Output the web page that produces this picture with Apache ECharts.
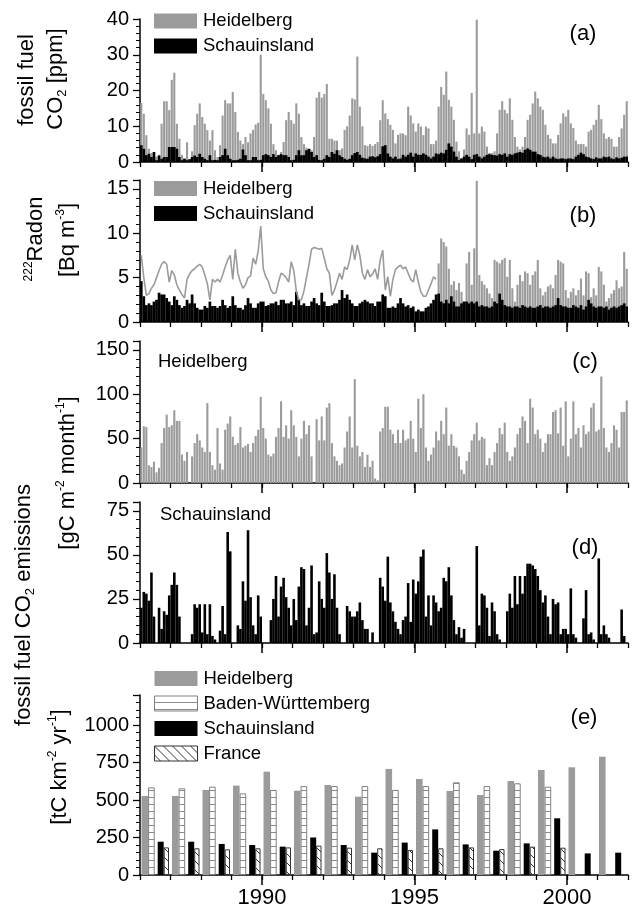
<!DOCTYPE html>
<html><head><meta charset="utf-8">
<script src="https://cdn.jsdelivr.net/npm/echarts@6/dist/echarts.min.js"></script>
<style>html,body{margin:0;padding:0;background:#fff}#c{width:637px;height:909px}</style>
</head><body><div id="c"></div>
<script>
// ---------------- DATA ----------------
const years = [1986,1987,1988,1989,1990,1991,1992,1993,1994,1995,1996,1997,1998,1999,2000,2001];
const yearTicks = [1990, 1995, 2000];

// (a) fossil fuel CO2 [ppm], monthly
const heidelbergCO2 = [
 16.5,13.5,7.5,3.7,2.5,2.0,1.5,2.0,10.7,17.0,17.0,14.5,
 23.0,25.0,10.7,6.5,2.0,1.0,5.5,0.5,3.0,10.3,13.5,16.4,
 12.6,10.7,8.9,6.0,8.9,3.3,1.4,4.7,13.0,17.3,16.4,16.4,
 19.6,14.0,8.4,6.0,5.0,7.0,5.5,8.0,9.0,10.5,11.0,30.0,
 19.0,17.3,15.0,10.7,5.0,3.3,2.0,2.8,5.6,11.7,14.0,11.7,
 10.7,16.4,13.5,7.0,5.0,4.0,2.0,3.3,7.0,18.0,19.6,18.0,
 19.0,21.8,6.5,6.5,6.0,6.0,3.3,3.8,9.0,10.0,13.0,17.8,
 17.5,29.5,15.5,10.0,4.7,4.5,5.0,4.5,5.0,5.6,11.7,17.3,
 13.6,12.0,10.4,9.0,5.2,7.6,8.0,8.0,7.5,15.5,13.0,10.8,
 8.5,10.8,9.9,7.5,9.9,9.4,5.0,5.0,6.0,15.5,21.0,18.8,
 25.3,17.4,15.5,11.8,5.7,3.0,1.0,3.5,9.4,7.6,19.3,8.0,
 39.8,8.0,9.9,8.5,4.3,2.5,2.5,3.0,8.0,14.6,17.0,14.6,
 13.6,17.8,11.8,7.0,4.3,3.5,4.3,7.0,11.8,13.2,16.4,19.7,
 17.8,15.5,14.6,10.4,7.6,6.5,5.2,5.2,7.6,10.8,13.6,12.7,
 14.6,10.8,9.5,6.0,5.0,5.0,5.0,4.3,8.5,9.0,10.4,11.8,
 16.0,12.0,8.0,6.5,7.0,6.5,4.3,4.3,7.0,9.4,13.2,17.0
];
const schauinslandCO2 = [
 4.7,3.7,1.9,2.3,1.4,2.8,0.5,1.8,0.9,1.4,1.4,4.2,
 4.2,4.2,3.7,1.4,0.5,0.9,0.5,0.8,1.4,1.8,1.4,2.3,
 1.4,0.9,0.5,1.9,0.5,0.6,0.5,1.4,1.9,3.7,1.9,0.9,
 0.5,0.5,0.6,0.9,3.5,1.9,0.5,0.5,1.4,1.4,0.5,0.6,
 1.9,2.2,1.9,1.4,2.2,1.4,1.9,2.2,1.9,1.9,1.4,0.5,
 0.6,1.9,3.3,1.9,1.9,3.3,3.7,2.8,1.4,1.9,0.6,0.5,
 0.9,1.9,1.4,2.8,2.3,3.3,1.9,1.4,0.9,0.6,0.9,1.9,
 2.5,2.8,2.0,1.2,1.0,0.9,1.5,1.6,1.3,1.6,2.2,4.4,
 4.7,2.4,1.5,1.0,1.5,0.8,1.0,2.0,1.5,2.0,2.6,1.5,
 2.4,2.0,2.0,2.4,2.0,1.5,1.0,1.5,2.4,2.2,2.6,2.4,
 3.4,5.2,4.3,2.9,1.5,0.6,1.0,1.5,2.0,1.5,0.8,2.0,
 2.2,1.5,1.0,1.5,2.0,2.2,2.0,1.9,1.8,2.2,2.0,2.4,
 1.5,2.2,2.0,2.4,2.6,2.8,2.6,3.4,3.8,3.4,2.9,2.9,
 2.2,2.0,1.5,1.3,1.5,1.0,1.5,1.0,0.8,1.0,1.0,0.8,
 1.0,1.0,0.8,1.5,2.0,2.6,2.2,1.5,1.3,1.0,0.8,1.3,
 1.0,1.0,1.5,1.3,1.5,1.0,0.8,1.3,1.0,1.2,1.5,1.5
];

// (b) 222Radon [Bq m-3]; Heidelberg: line Jan 1986 - Sep 1995, bars Oct 1995 - Dec 2001
const radonHeidelbergLine = [
 7.5,5.0,3.0,3.2,3.8,4.2,5.0,5.8,6.5,6.8,6.5,4.5,
 5.8,5.3,4.2,3.6,3.1,2.7,4.8,5.4,5.8,6.0,6.3,6.5,
 6.2,5.3,4.3,2.5,4.8,4.5,4.8,4.5,5.3,6.2,7.0,7.5,
 4.8,8.2,5.5,4.5,3.8,4.2,5.0,5.2,7.2,6.5,8.0,10.8,
 6.0,5.1,4.6,3.6,3.2,3.3,4.5,5.5,5.3,5.0,4.5,6.8,
 5.8,3.5,2.5,2.5,3.5,5.0,6.5,8.2,8.4,8.3,8.2,8.3,
 7.2,6.0,5.5,3.0,3.6,4.5,5.5,4.8,6.2,5.9,7.0,8.7,
 7.0,8.7,7.5,5.5,4.8,5.9,5.1,5.4,6.0,4.8,7.0,8.1,
 3.6,5.1,2.9,4.8,5.9,6.2,6.4,6.0,6.2,5.5,4.8,4.5,
 5.9,4.5,3.4,2.9,2.9,3.6,4.3,5.1,4.8
];
const radonHeidelbergBars = [
 6.6,9.4,9.0,
 8.5,6.0,4.2,4.6,3.6,4.4,3.4,2.3,6.6,7.9,4.2,8.3,
 15.9,5.3,4.6,4.2,3.8,3.2,2.7,7.0,6.8,6.6,7.0,7.2,
 5.1,7.0,3.8,2.3,4.2,5.3,4.6,5.7,5.5,4.2,5.3,5.7,
 7.0,3.8,3.0,3.4,4.0,4.2,3.8,5.3,7.0,6.8,6.6,3.6,
 2.7,3.4,3.8,3.0,3.6,4.9,3.0,5.7,5.5,2.8,3.8,3.0,
 6.2,5.7,4.2,2.3,2.7,3.2,3.6,4.7,3.8,4.0,7.9,6.0
];
const radonSchauinsland = [
 4.6,2.9,1.9,2.1,1.9,2.3,2.5,3.3,3.1,3.1,2.7,2.3,
 1.9,2.9,2.5,1.9,1.6,1.8,2.5,2.1,3.1,2.1,1.6,1.4,
 1.4,1.8,1.6,2.3,1.8,1.8,1.6,1.8,2.5,1.9,1.6,1.8,
 2.9,1.9,1.6,1.6,1.4,1.9,2.7,2.1,1.6,1.6,2.1,2.3,
 2.3,1.8,1.9,2.1,2.1,2.3,1.9,2.5,2.5,2.1,2.1,2.3,
 1.9,3.4,2.5,1.9,2.1,1.8,1.8,2.3,2.7,2.1,1.9,3.3,
 2.3,1.8,1.8,1.9,2.1,2.1,2.5,3.6,2.7,3.1,2.5,2.1,
 1.8,1.8,2.1,2.3,2.5,2.3,2.1,2.1,1.8,2.3,2.3,3.1,
 2.9,1.6,1.6,1.75,1.6,2.1,2.7,2.1,1.75,1.9,1.6,1.75,
 1.2,1.4,1.2,1.2,1.6,1.75,2.1,2.5,3.1,3.2,2.3,2.1,
 2.5,2.1,2.9,2.3,1.75,1.75,2.1,2.3,2.3,2.1,2.3,2.1,
 2.3,1.75,1.9,1.75,1.75,1.6,1.75,2.3,2.1,3.2,2.5,1.9,
 1.75,1.75,1.6,1.75,1.75,1.6,1.9,1.75,1.6,1.75,1.6,1.6,
 1.75,1.9,1.6,1.75,1.75,1.6,1.75,1.9,2.7,1.9,1.75,1.75,
 1.6,1.6,1.9,1.75,1.6,1.9,1.4,1.75,2.5,2.1,1.75,1.6,
 1.75,1.75,1.6,1.75,1.4,1.6,1.75,1.6,1.75,1.9,2.1,1.75
];

// (c) Heidelberg fossil fuel CO2 emissions [gC m-2 month-1]
const heidelbergEmission = [
 40,64,63,20,18,24,12,17,45,62,77,63,
 65,82,70,70,32,25,35,0,30,45,55,48,
 40,35,90,35,20,15,62,22,15,60,67,75,
 52,43,45,63,40,42,44,35,45,53,60,97,
 62,50,32,30,33,52,62,92,52,65,50,82,
 65,52,30,50,70,55,65,30,0,72,48,75,
 48,85,90,45,30,25,20,22,40,58,75,40,
 117,42,30,35,18,32,18,25,5,3,58,62,
 86,86,60,55,45,60,45,60,48,50,70,50,
 35,95,62,100,40,25,32,40,58,48,70,55,
 85,42,55,42,40,30,15,10,25,35,48,55,
 68,48,52,50,20,28,20,35,45,62,55,68,
 35,25,30,40,55,62,75,70,45,95,85,55,
 60,50,35,45,55,55,80,82,56,85,42,92,
 30,50,92,55,62,40,65,55,58,85,90,58,
 60,120,62,40,35,45,65,60,40,80,80,93
];
// (d) Schauinsland fossil fuel CO2 emissions [gC m-2 month-1]
const schauinslandEmission = [
 20,29,28,24,40,15,0,20,8,18,16,27,
 33,40,33,15,0,0,0,0,5,22,20,22,
 6,22,5,22,4,2,0,7,21,5,63,52,
 0,0,10,8,35,24,64,26,10,5,27,15,
 0,0,0,13,25,38,15,32,37,26,20,10,
 25,13,32,43,42,10,20,44,5,6,35,25,
 20,51,40,25,39,20,5,0,0,21,18,15,
 15,18,23,13,8,8,0,6,0,0,37,32,
 24,49,23,18,12,8,5,13,15,34,12,36,
 28,35,49,53,15,27,10,27,23,18,20,37,
 35,43,27,13,5,9,3,8,0,0,0,0,
 55,10,28,27,20,4,23,18,5,2,0,0,
 18,28,20,38,22,38,28,38,45,45,44,42,
 38,30,23,27,15,5,25,22,23,5,8,8,
 5,31,5,3,0,0,14,30,5,6,2,0,
 48,5,10,5,3,0,0,0,0,19,4,0
];

// (e) annual fossil fuel CO2 emissions [tC km-2 yr-1]
const heidelbergAnnual   = [527,527,567,596,689,562,600,522,707,640,560,533,627,700,718,789];
const badenWuerttemberg  = [584,578,589,544,567,593,593,593,567,593,618,593,611,589,null,null];
const schauinslandAnnual = [222,222,207,200,189,250,200,149,216,304,204,162,211,378,144,149];
const franceAnnual       = [184,178,171,178,184,196,182,178,167,178,184,173,189,182,null,null];

// ---------------- STYLE / LAYOUT ----------------
const FONT = '"Liberation Sans", Arial, Helvetica, sans-serif';
const GRAY = '#9b9b9b';
const months = [];
years.forEach(y => { for (let m = 1; m <= 12; m++) months.push(y + '-' + m); });
const nLine = radonHeidelbergLine.length;
const radonLineFull = radonHeidelbergLine.concat(new Array(months.length - nLine).fill(null));
const radonBarsFull = new Array(nLine).fill(null).concat(radonHeidelbergBars);

function makePattern(kind) {
  const c = document.createElement('canvas');
  const g = c.getContext('2d');
  if (kind === 'h') {
    c.width = 4; c.height = 7;
    g.fillStyle = '#fff'; g.fillRect(0, 0, 4, 7);
    g.fillStyle = '#8a8a8a'; g.fillRect(0, 6, 4, 1);
  } else {
    c.width = 9; c.height = 9;
    g.fillStyle = '#fff'; g.fillRect(0, 0, 9, 9);
    g.strokeStyle = '#333'; g.lineWidth = 1;
    g.beginPath(); g.moveTo(-1, -1); g.lineTo(10, 10); g.stroke();
  }
  return { image: c, repeat: 'repeat' };
}
const hPat = makePattern('h');
const dPat = makePattern('d');

const gridBase = { left: 140, right: 9, containLabel: false, outerBoundsMode: 'none' };
const grids = [
  Object.assign({}, gridBase, { top: 19,  height: 143 }),
  Object.assign({}, gridBase, { top: 180, height: 142 }),
  Object.assign({}, gridBase, { top: 341, height: 142 }),
  Object.assign({}, gridBase, { top: 502, height: 141 }),
  Object.assign({}, gridBase, { top: 695, height: 180 })
];
const xAxes = [], yAxes = [], series = [];
function catAxis(g, data) {
  xAxes.push({ type: 'category', gridIndex: g, position: 'bottom', data: data, boundaryGap: true, show: false });
  return xAxes.length - 1;
}
function yearAxes(g, labels) {
  xAxes.push({ type: 'value', gridIndex: g, position: 'bottom', min: 1986, max: 2002, interval: 1,
    axisLine: { show: true, onZero: false, lineStyle: { color: '#000', width: 1.5 } },
    axisTick: { show: true, inside: false, length: 5, lineStyle: { color: '#000', width: 1.3 } },
    axisLabel: { show: false }, splitLine: { show: false } });
  xAxes.push({ type: 'value', gridIndex: g, position: 'bottom', min: 1986, max: 2002,
    axisLine: { show: false, onZero: false },
    axisTick: { show: true, inside: false, length: 10, customValues: yearTicks, lineStyle: { color: '#000', width: 1.5 } },
    axisLabel: { show: labels, customValues: yearTicks, formatter: v => String(v), fontSize: 22, color: '#000', fontFamily: FONT, margin: 12 },
    splitLine: { show: false } });
}
function yAxis(g, max, interval) {
  yAxes.push({ type: 'value', gridIndex: g, position: 'left', min: 0, max: max, interval: interval,
    axisLine: { show: true, lineStyle: { color: '#000', width: 1.5 } },
    axisTick: { show: true, inside: false, length: 7, lineStyle: { color: '#000', width: 1.3 } },
    minorTick: { show: true, splitNumber: 5, length: 4, lineStyle: { color: '#000', width: 1 } },
    axisLabel: { fontSize: 20, color: '#000', fontFamily: FONT, margin: 11, formatter: v => String(v),
      showMaxLabel: max % interval === 0 },
    splitLine: { show: false } });
  return yAxes.length - 1;
}
function bar(name, xi, yi, data, color, width, z) {
  series.push({ name: name, type: 'bar', xAxisIndex: xi, yAxisIndex: yi, data: data,
    barWidth: width, itemStyle: { color: color }, z: z || 2, animation: false, silent: true });
}

// panel a
let xa1 = catAxis(0, months), xa2 = catAxis(0, months); yearAxes(0, false);
let ya = yAxis(0, 40, 10);
bar('Heidelberg', xa1, ya, heidelbergCO2, GRAY, 2.1, 2);
bar('Schauinsland', xa2, ya, schauinslandCO2, '#000', 2.7, 3);
// panel b
let xb1 = catAxis(1, months), xb2 = catAxis(1, months); yearAxes(1, false);
let yb = yAxis(1, 16, 5);
bar('Heidelberg', xb1, yb, radonBarsFull, GRAY, 2.1, 2);
bar('Schauinsland', xb2, yb, radonSchauinsland, '#000', 2.7, 3);
series.push({ name: 'Heidelberg', type: 'line', xAxisIndex: xb1, yAxisIndex: yb, data: radonLineFull,
  symbol: 'none', lineStyle: { color: GRAY, width: 1.6 }, itemStyle: { color: GRAY }, z: 4, animation: false, silent: true });
// panel c
let xc1 = catAxis(2, months); yearAxes(2, false);
let yc = yAxis(2, 160, 50);
bar('Heidelberg', xc1, yc, heidelbergEmission, GRAY, 2.1, 2);
// panel d
let xd1 = catAxis(3, months); yearAxes(3, false);
let yd = yAxis(3, 80, 25);
bar('Schauinsland', xd1, yd, schauinslandEmission, '#000', 2.6, 2);
// panel e
let xe1 = catAxis(4, years.map(String)); yearAxes(4, true);
let ye = yAxis(4, 1200, 250);
series.push({ name: 'Heidelberg', type: 'bar', xAxisIndex: xe1, yAxisIndex: ye, data: heidelbergAnnual, barWidth: 6.6, barGap: '0%',
  itemStyle: { color: GRAY }, animation: false, silent: true });
series.push({ name: 'Baden-Württemberg', type: 'bar', xAxisIndex: xe1, yAxisIndex: ye, data: badenWuerttemberg, barWidth: 6.6, barGap: '0%',
  itemStyle: { color: hPat, borderColor: '#808080', borderWidth: 1 }, animation: false, silent: true });
series.push({ name: '_spacer', type: 'bar', xAxisIndex: xe1, yAxisIndex: ye, data: years.map(() => null), barWidth: 3, barGap: '0%',
  animation: false, silent: true });
series.push({ name: 'Schauinsland', type: 'bar', xAxisIndex: xe1, yAxisIndex: ye, data: schauinslandAnnual, barWidth: 6, barGap: '0%',
  itemStyle: { color: '#000' }, animation: false, silent: true });
series.push({ name: 'France', type: 'bar', xAxisIndex: xe1, yAxisIndex: ye, data: franceAnnual, barWidth: 5.3, barGap: '0%',
  itemStyle: { color: dPat, borderColor: '#333', borderWidth: 1 }, animation: false, silent: true });

const legendBase = { orient: 'vertical', left: 154, padding: 0, itemWidth: 43, itemHeight: 15, itemGap: 6,
  selectedMode: false, textStyle: { fontSize: 18.5, color: '#000', fontFamily: FONT, padding: [0, 0, 0, 1] } };
const legends = [
  Object.assign({}, legendBase, { top: 11.5, data: [
    { name: 'Heidelberg', icon: 'rect', itemStyle: { color: GRAY } },
    { name: 'Schauinsland', icon: 'rect', itemStyle: { color: '#000' } } ] }),
  Object.assign({}, legendBase, { top: 179, data: [
    { name: 'Heidelberg', icon: 'rect', itemStyle: { color: GRAY } },
    { name: 'Schauinsland', icon: 'rect', itemStyle: { color: '#000' } } ] }),
  Object.assign({}, legendBase, { top: 669, data: [
    { name: 'Heidelberg', icon: 'rect', itemStyle: { color: GRAY } },
    { name: 'Baden-Württemberg', icon: 'rect', itemStyle: { color: hPat, borderColor: '#808080', borderWidth: 1 } },
    { name: 'Schauinsland', icon: 'rect', itemStyle: { color: '#000' } },
    { name: 'France', icon: 'rect', itemStyle: { color: dPat, borderColor: '#333', borderWidth: 1 } } ] })
];

const TF = 22;
const rich = {
  n: { fontSize: TF, fontFamily: FONT, fill: '#000', lineHeight: 26, verticalAlign: 'middle' },
  sup: { fontSize: 12, fontFamily: FONT, fill: '#000', lineHeight: 13, verticalAlign: 'top' },
  sub: { fontSize: 13, fontFamily: FONT, fill: '#000', lineHeight: 13, verticalAlign: 'bottom' }
};
function vtext(x, y, text) {
  return { type: 'text', x: x, y: y, rotation: Math.PI / 2, silent: true,
    style: { text: text, rich: rich, fontSize: TF, fontFamily: FONT, fill: '#000', align: 'center', verticalAlign: 'middle' } };
}
function htext(x, y, text, size, align) {
  return { type: 'text', x: x, y: y, silent: true,
    style: { text: text, fontSize: size, fontFamily: FONT, fill: '#000', align: align || 'center', verticalAlign: 'middle' } };
}
const graphic = [
  vtext(27, 80, '{n|fossil fuel}'),
  vtext(56, 79, '{n|CO}{sub|2}{n| [ppm]}'),
  vtext(36, 239, '{sup|222}{n|Radon}'),
  vtext(68, 240, '{n|[Bq m}{sup|-3}{n|]}'),
  vtext(24, 605, '{n|fossil fuel CO}{sub|2}{n| emissions}'),
  vtext(68, 473, '{n|[gC m}{sup|-2}{n| month}{sup|-1}{n|]}'),
  vtext(60, 767, '{n|[tC km}{sup|-2}{n| yr}{sup|-1}{n|]}'),
  htext(583, 34, '(a)', 22), htext(583, 216, '(b)', 22), htext(585, 362, '(c)', 22),
  htext(585, 548, '(d)', 22), htext(584, 718, '(e)', 22),
  htext(158, 362, 'Heidelberg', 18.5, 'left'),
  htext(160, 515, 'Schauinsland', 18.5, 'left')
];

const chart = echarts.init(document.getElementById('c'), null, { renderer: 'canvas' });
chart.setOption({
  animation: false,
  backgroundColor: '#fff',
  grid: grids, xAxis: xAxes, yAxis: yAxes, series: series, legend: legends, graphic: graphic
});
</script>
</body></html>
